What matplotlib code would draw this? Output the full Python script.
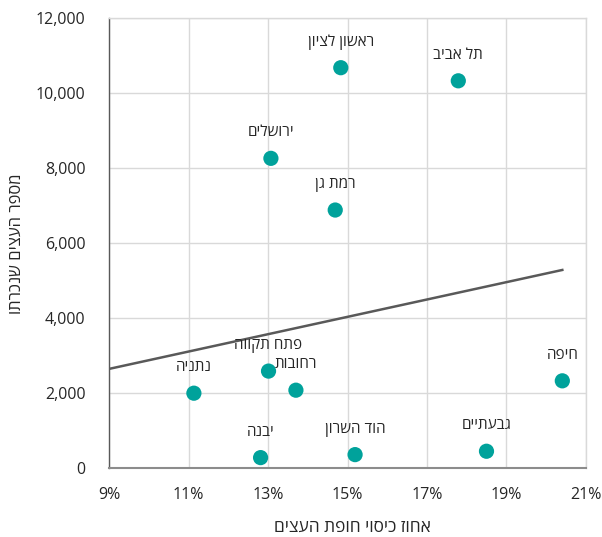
import matplotlib
matplotlib.use("Agg")
import matplotlib.pyplot as plt
from matplotlib.ticker import FuncFormatter, FixedLocator

plt.rcParams['font.family'] = ['Open Sans', 'Noto Sans', 'DejaVu Sans']

cities = ["ראשון לציון", "תל אביב", "ירושלים", "רמת גן", "פתח תקווה", "רחובות",
          "נתניה", "יבנה", "הוד השרון", "גבעתיים", "חיפה"]
canopy_pct = [14.83, 17.79, 13.07, 14.69, 13.01, 13.70, 11.13, 12.81, 15.19, 18.50, 20.41]
trees_cut = [10680, 10330, 8260, 6880, 2580, 2070, 1990, 270, 350, 440, 2320]

trend_x = [9.0, 20.41]
trend_y = [2640, 5280]

x_ticks = [9, 11, 13, 15, 17, 19, 21]
y_ticks = [0, 2000, 4000, 6000, 8000, 10000, 12000]

x_title = "אחוז כיסוי חופת העצים"
y_title = "מספר העצים שנכרתו"


def heb(s):
    # matplotlib has no bidi support: give Hebrew in visual order
    return s[::-1]


fig = plt.figure(figsize=(6.02, 5.37), dpi=100)
ax = fig.add_axes([0.1816, 0.129, 0.973 - 0.1816, 0.966 - 0.129])

ax.set_xlim(x_ticks[0], x_ticks[-1])
ax.set_ylim(y_ticks[0], y_ticks[-1])
ax.xaxis.set_major_locator(FixedLocator(x_ticks))
ax.yaxis.set_major_locator(FixedLocator(y_ticks))
ax.xaxis.set_major_formatter(FuncFormatter(lambda v, p: f"{v:.0f}%"))
ax.yaxis.set_major_formatter(FuncFormatter(lambda v, p: f"{v:,.0f}"))

ax.grid(True, color="#D9D9D9", linewidth=1.0)
ax.set_axisbelow(True)
for side in ["top", "right"]:
    ax.spines[side].set_color("#D9D9D9")
    ax.spines[side].set_linewidth(1.0)
ax.spines["left"].set_color("#595959")
ax.spines["left"].set_linewidth(1.0)
ax.spines["bottom"].set_color("#8C8C8C")
ax.spines["bottom"].set_linewidth(1.5)

ax.tick_params(axis="both", length=0, labelsize=11.5, colors="#262626")
ax.tick_params(axis="y", pad=17)
ax.tick_params(axis="x", pad=14)

ax.plot(trend_x, trend_y, color="#595959", linewidth=1.8, zorder=2)
ax.scatter(canopy_pct, trees_cut, s=120, color="#00A29B", edgecolors="none", zorder=3)

for name, x, y in zip(cities, canopy_pct, trees_cut):
    ax.annotate(heb(name), (x, y), xytext=(0, 18), textcoords="offset pixels",
                ha="center", va="bottom", fontsize=11, color="#262626")

fig.text(0.586, 0.003, heb(x_title), ha="center", va="bottom", fontsize=12.5,
         color="#262626")
fig.text(0.028, 0.546, heb(y_title), ha="center", va="center", rotation=90,
         fontsize=12, color="#262626")

fig.savefig("out.png", dpi=100)
